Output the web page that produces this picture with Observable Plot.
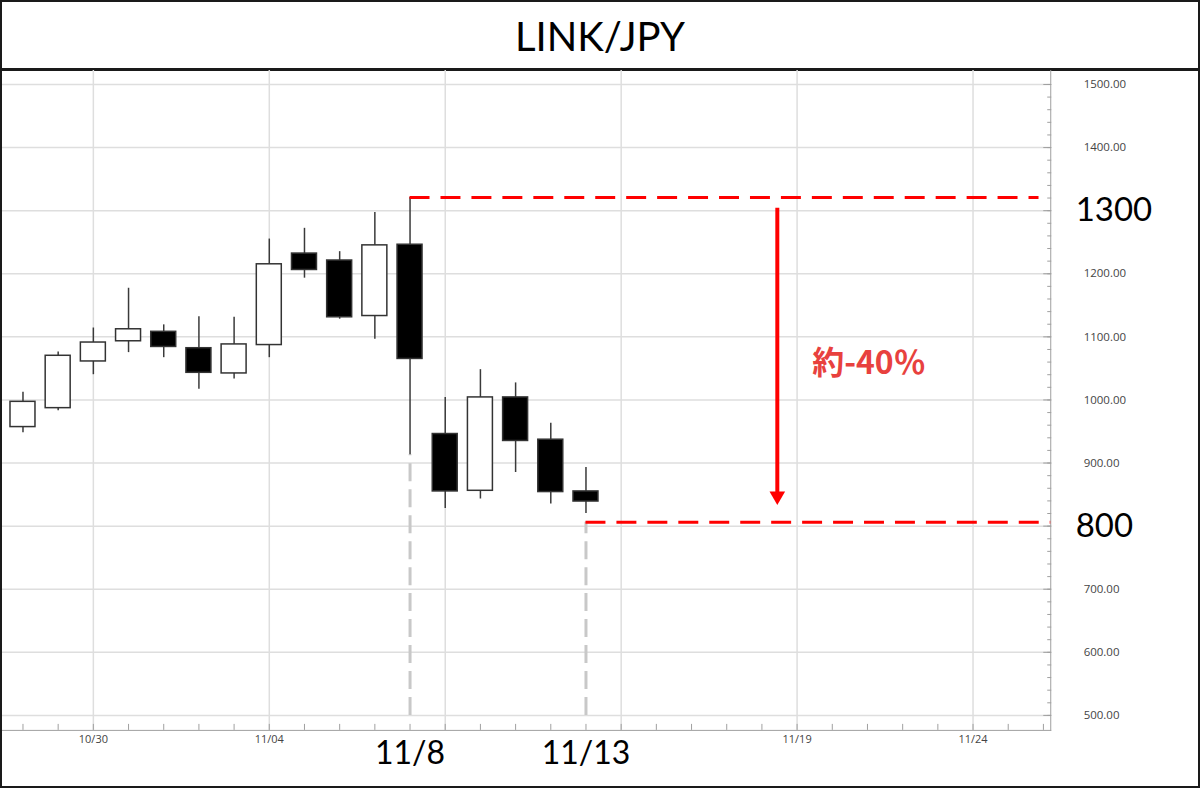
<!DOCTYPE html>
<html><head><meta charset="utf-8">
<script src="https://cdn.jsdelivr.net/npm/d3@7"></script>
<script src="https://cdn.jsdelivr.net/npm/@observablehq/plot@0.6"></script>
<style>
html,body{margin:0;padding:0;background:#fff}
#wrap{position:relative;width:1200px;height:788px;box-sizing:border-box;border:2px solid #1a1a1a;overflow:hidden;background:#fff}
#title{position:absolute;left:0;top:0;width:100%;height:63px;padding-top:3px;border-bottom:3px solid #1a1a1a;text-align:center;font-family:Lato,sans-serif;font-size:40px;line-height:62px;color:#000}
#chart{position:absolute;left:-2px;top:66px}
</style></head><body>
<div id="wrap"><div id="title">LINK/JPY</div><div id="chart"></div></div>
<script>
// ---- candle data (LINK/JPY daily) ----
const dates = ["2022-10-28","2022-10-29","2022-10-30","2022-10-31","2022-11-01","2022-11-02","2022-11-03","2022-11-04","2022-11-05","2022-11-06","2022-11-07","2022-11-08","2022-11-09","2022-11-10","2022-11-11","2022-11-12","2022-11-13"];
const open  = [957, 987, 1061, 1093, 1108, 1082, 1042, 1087, 1232, 1221, 1133, 1246, 946, 856, 1004, 937, 855];
const close = [997, 1070, 1091, 1112, 1084, 1043, 1088, 1215, 1206, 1131, 1245, 1065, 855, 1004, 935, 854, 839];
const high  = [1012, 1076, 1114, 1177, 1119, 1132, 1131, 1255, 1272, 1235, 1297, 1321, 1004, 1048, 1027, 963, 893];
const low   = [948, 983, 1040, 1075, 1067, 1017, 1033, 1067, 1193, 1128, 1096, 913, 828, 843, 885, 835, 820];

// ---- axes ----
const yLabelTicks = [500, 600, 700, 900, 1000, 1100, 1200, 1400, 1500];
const yGrid = [500, 600, 700, 800, 900, 1000, 1100, 1200, 1300, 1400, 1500];
const xGridDates = ["2022-10-30","2022-11-04","2022-11-09","2022-11-14","2022-11-19","2022-11-24"];
const xLabelDates = ["2022-10-30","2022-11-04","2022-11-19","2022-11-24"];
const xDomain = ["2022-10-27T08:40Z","2022-11-26T05:00Z"];

// ---- annotations ----
const levelStart = ["2022-11-08","2022-11-13"];
const levelEnd = ["2022-11-25T21:00Z","2022-11-26T05:00Z"];
const levelValue = [1321, 806];
const levelDrop = [913, 806];
const levelFloor = [500, 500];
const bigYLabels = [1300, 800];
const bigXLabels = ["11/8","11/13"];
const arrowDate = "2022-11-18T10:30Z";
const arrowFrom = 1304;
const arrowTo = 850;
const arrowHead = 847.6;
const pctText = "約-40％";
const pctDate = "2022-11-21T01:00Z";
const pctValue = 1058;

const candles = dates.map((d, i) => ({date: new Date(d), open: open[i], close: close[i], high: high[i], low: low[i]}));
const levels = levelStart.map((d, i) => ({start: new Date(d), end: new Date(levelEnd[i]), value: levelValue[i], drop: levelDrop[i], floor: levelFloor[i], label: bigXLabels[i]}));
const halfBody = 0.355 * 864e5;
const days = d3.utcDay.range(new Date("2022-10-28"), new Date("2022-11-27"));

const chart = Plot.plot({
  width: 1200, height: 720,
  marginTop: 2, marginBottom: 57, marginLeft: 0, marginRight: 148,
  x: {type: "utc", domain: xDomain.map(d => new Date(d))},
  y: {domain: [500, 1500], range: [648, 16]},
  color: {type: "identity"},
  style: {fontFamily: "'Open Sans', sans-serif", background: "transparent"},
  marks: [
    Plot.ruleX(xGridDates.map(d => new Date(d)), {stroke: "#dedede", strokeWidth: 1.5}),
    Plot.ruleY(yGrid, {stroke: "#dedede", strokeWidth: 1.5}),
    Plot.frame({anchor: "bottom", stroke: "#a0a0a0"}),
    Plot.frame({anchor: "right", stroke: "#a0a0a0"}),
    // y-axis ticks (inward)
    Plot.axisY({anchor: "right", ticks: d3.range(500, 1501, 20), tickSize: 4, dx: -4, tickFormat: () => "", stroke: "#a0a0a0"}),
    Plot.axisY({anchor: "right", ticks: yGrid, tickSize: 8, dx: -8, tickFormat: () => "", stroke: "#a0a0a0"}),
    Plot.axisY({anchor: "right", ticks: yLabelTicks, tickSize: 0, tickPadding: 33, tickFormat: d3.format(".2f"), fontSize: 11.5, fill: "#444", label: null}),
    // x-axis ticks (upward)
    Plot.axisX({anchor: "bottom", ticks: days, tickSize: 6, dy: -6, tickFormat: () => "", stroke: "#a0a0a0"}),
    Plot.axisX({anchor: "bottom", ticks: xLabelDates.map(d => new Date(d)), tickSize: 0, tickPadding: 5, tickFormat: d3.utcFormat("%m/%d"), fontSize: 11, fill: "#444", label: null}),
    // gray dashed verticals
    Plot.ruleX(levels, {x: "start", y1: "floor", y2: "drop", stroke: "#c8c8c8", strokeWidth: 3, strokeDasharray: "18,8"}),
    // candles
    Plot.ruleX(candles, {x: "date", y1: "low", y2: "high", stroke: "#3a3a3a", strokeWidth: 1.5}),
    Plot.rect(candles, {x1: d => new Date(+d.date - halfBody), x2: d => new Date(+d.date + halfBody), y1: "open", y2: "close", fill: d => d.close >= d.open ? "#ffffff" : "#000000", stroke: "#333", strokeWidth: 1.5}),
    // red level lines
    Plot.ruleY(levels, {y: "value", x1: "start", x2: "end", stroke: "#ff0000", strokeWidth: 3, strokeDasharray: "20,11"}),
    // arrow
    Plot.ruleX([arrowDate], {x: d => new Date(d), y1: arrowFrom, y2: arrowTo, stroke: "#ff0000", strokeWidth: 4}),
    Plot.dot([arrowDate], {x: d => new Date(d), y: arrowHead, symbol: "triangle", rotate: 180, r: 5.8, fill: "#ff0000", stroke: "none"}),
    Plot.text([pctText], {x: new Date(pctDate), y: pctValue, text: d => d, fontSize: 32, fontWeight: "bold", fill: "#e8413e", fontFamily: "'Noto Sans CJK JP', sans-serif"}),
    // big labels
    Plot.text(bigYLabels, {y: d => d, text: d => String(d), frameAnchor: "right", dx: 25, textAnchor: "start", fontSize: 33, fill: "#000", fontFamily: "Lato, sans-serif"}),
    Plot.text(levels, {x: "start", text: "label", frameAnchor: "bottom", dy: 34, fontSize: 32, fill: "#000", fontFamily: "Lato, sans-serif"})
  ]
});
document.getElementById("chart").appendChild(chart);
</script>
</body></html>
